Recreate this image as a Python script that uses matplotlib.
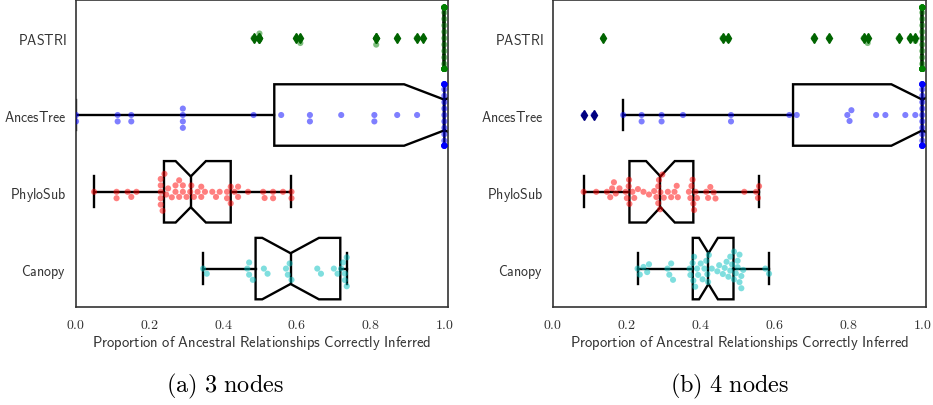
import warnings
import pandas as pd
import matplotlib
matplotlib.use("Agg")
import matplotlib.pyplot as plt
import seaborn as sns

warnings.filterwarnings("ignore")

methods = ["PASTRI", "AncesTree", "PhyloSub", "Canopy"]
dot_colors = ["green", "blue", "red", "c"]
flier_colors = ["darkgreen", "navy", "darkred", "teal"]
x_ticks = [0.0, 0.2, 0.4, 0.6, 0.8, 1.0]
captions = ["(a) 3 nodes", "(b) 4 nodes"]
xlabel = "Proportion of Ancestral Relationships Correctly Inferred"

# (a) 3 nodes
pastri_3 = [0.482, 0.498, 0.498, 0.598, 0.609, 0.815, 0.815, 0.872, 0.925, 0.942] + [1.0] * 34
ancestree_3 = [0.0, 0.0, 0.113, 0.113, 0.15, 0.15, 0.29, 0.29, 0.29, 0.29,
               0.482, 0.557, 0.635, 0.635, 0.72, 0.81, 0.81, 0.872, 0.926] + [1.0] * 25
phylosub_3 = [0.049, 0.11, 0.11, 0.14, 0.15, 0.164, 0.23, 0.23, 0.23, 0.23, 0.23, 0.235,
              0.24, 0.245, 0.25, 0.26, 0.27, 0.27, 0.28, 0.28, 0.29, 0.29, 0.30, 0.31,
              0.313,
              0.32, 0.33, 0.34, 0.34, 0.35, 0.37, 0.38, 0.39, 0.41, 0.41, 0.42, 0.42,
              0.43, 0.44, 0.44, 0.467, 0.508, 0.512, 0.535, 0.535, 0.562, 0.585, 0.585]
canopy_3 = [0.345, 0.355, 0.465, 0.47, 0.47, 0.48, 0.51, 0.52, 0.57, 0.575, 0.58,
            0.585, 0.655, 0.665, 0.70, 0.71, 0.72, 0.725, 0.73, 0.73, 0.735, 0.735]

# (b) 4 nodes
pastri_4 = [0.136, 0.459, 0.475, 0.706, 0.747, 0.841, 0.852, 0.936, 0.966, 0.981] + [1.0] * 33
ancestree_4 = [0.083, 0.11, 0.19, 0.24, 0.24, 0.294, 0.294, 0.352, 0.482, 0.482,
               0.64, 0.66, 0.797, 0.803, 0.808, 0.875, 0.90, 0.954, 0.981] + [1.0] * 24
phylosub_4 = [0.083, 0.117, 0.146, 0.155, 0.16, 0.165, 0.17, 0.18, 0.197, 0.2, 0.205, 0.206,
              0.207, 0.215, 0.22, 0.23, 0.245, 0.26, 0.274, 0.28, 0.285, 0.285, 0.287, 0.29,
              0.291,
              0.296, 0.30, 0.311, 0.32, 0.329, 0.335, 0.338, 0.368, 0.372, 0.375, 0.378, 0.38,
              0.382, 0.386, 0.39, 0.415, 0.42, 0.426, 0.435, 0.44, 0.518, 0.55, 0.555, 0.558]
canopy_4 = [0.229, 0.235, 0.245, 0.255, 0.26, 0.31, 0.315, 0.32, 0.325, 0.37, 0.372,
            0.378, 0.38, 0.382, 0.385, 0.39, 0.393, 0.40, 0.405, 0.41, 0.415, 0.418, 0.42,
            0.422, 0.43, 0.445, 0.45, 0.46, 0.465, 0.47, 0.475, 0.48, 0.48, 0.485,
            0.49, 0.49, 0.495, 0.50, 0.50, 0.505, 0.505, 0.51, 0.51, 0.515, 0.575, 0.585]

panels = [
    [pastri_3, ancestree_3, phylosub_3, canopy_3],
    [pastri_4, ancestree_4, phylosub_4, canopy_4],
]

plt.rcParams["mathtext.fontset"] = "cm"
label_color = "0.2"


def draw_panel(ax, groups):
    df = pd.DataFrame({
        "method": [m for m, g in zip(methods, groups) for _ in g],
        "value": [v for g in groups for v in g],
    })
    lw = 1.7
    bp = ax.boxplot(groups, positions=range(len(methods)), orientation="horizontal",
                    notch=True, widths=0.8, patch_artist=True, manage_ticks=False,
                    boxprops=dict(facecolor="white", edgecolor="black", linewidth=lw),
                    medianprops=dict(color="black", linewidth=lw),
                    whiskerprops=dict(color="black", linewidth=lw),
                    capprops=dict(color="black", linewidth=lw),
                    flierprops=dict(marker="d", markersize=5),
                    zorder=2)
    for f, c in zip(bp["fliers"], flier_colors):
        f.set_markerfacecolor(c)
        f.set_markeredgecolor(c)
        f.set_zorder(4)

    sns.swarmplot(data=df, x="value", y="method", hue="method", order=methods,
                  hue_order=methods, palette=dot_colors, alpha=0.5, size=4.4,
                  legend=False, ax=ax, zorder=3)

    ax.set_xlim(0, 1.01)
    ax.set_ylim(3.5, -0.5)
    ax.set_xticks(x_ticks)
    ax.set_xticklabels([f"${t:.1f}$" for t in x_ticks], fontsize=10, color=label_color)
    ax.set_yticks(range(len(methods)))
    ax.set_yticklabels([r"$\mathsf{" + m + "}$" for m in methods], fontsize=10,
                       color=label_color)
    ax.set_xlabel(r"$\mathsf{" + xlabel.replace(" ", r"\ ") + "}$", fontsize=10.6,
                  color=label_color, labelpad=2)
    ax.set_ylabel("")
    ax.tick_params(length=0, pad=7)
    for s in ax.spines.values():
        s.set_color("0.2")
        s.set_linewidth(1.2)


fig = plt.figure(figsize=(9.33, 4.06), dpi=100)
ax1 = fig.add_axes([0.0815, 0.2414, 0.3987, 0.7566])
ax2 = fig.add_axes([0.5927, 0.2414, 0.3998, 0.7566])
for ax, groups in zip([ax1, ax2], panels):
    draw_panel(ax, groups)

fig.text(225 / 933, 1 - 386 / 406, r"$\mathrm{" + captions[0].replace(" ", r"\ ") + "}$",
         ha="center", va="center", fontsize=17.5)
fig.text(730 / 933, 1 - 386 / 406, r"$\mathrm{" + captions[1].replace(" ", r"\ ") + "}$",
         ha="center", va="center", fontsize=17.5)

fig.savefig("out.png", dpi=100)
